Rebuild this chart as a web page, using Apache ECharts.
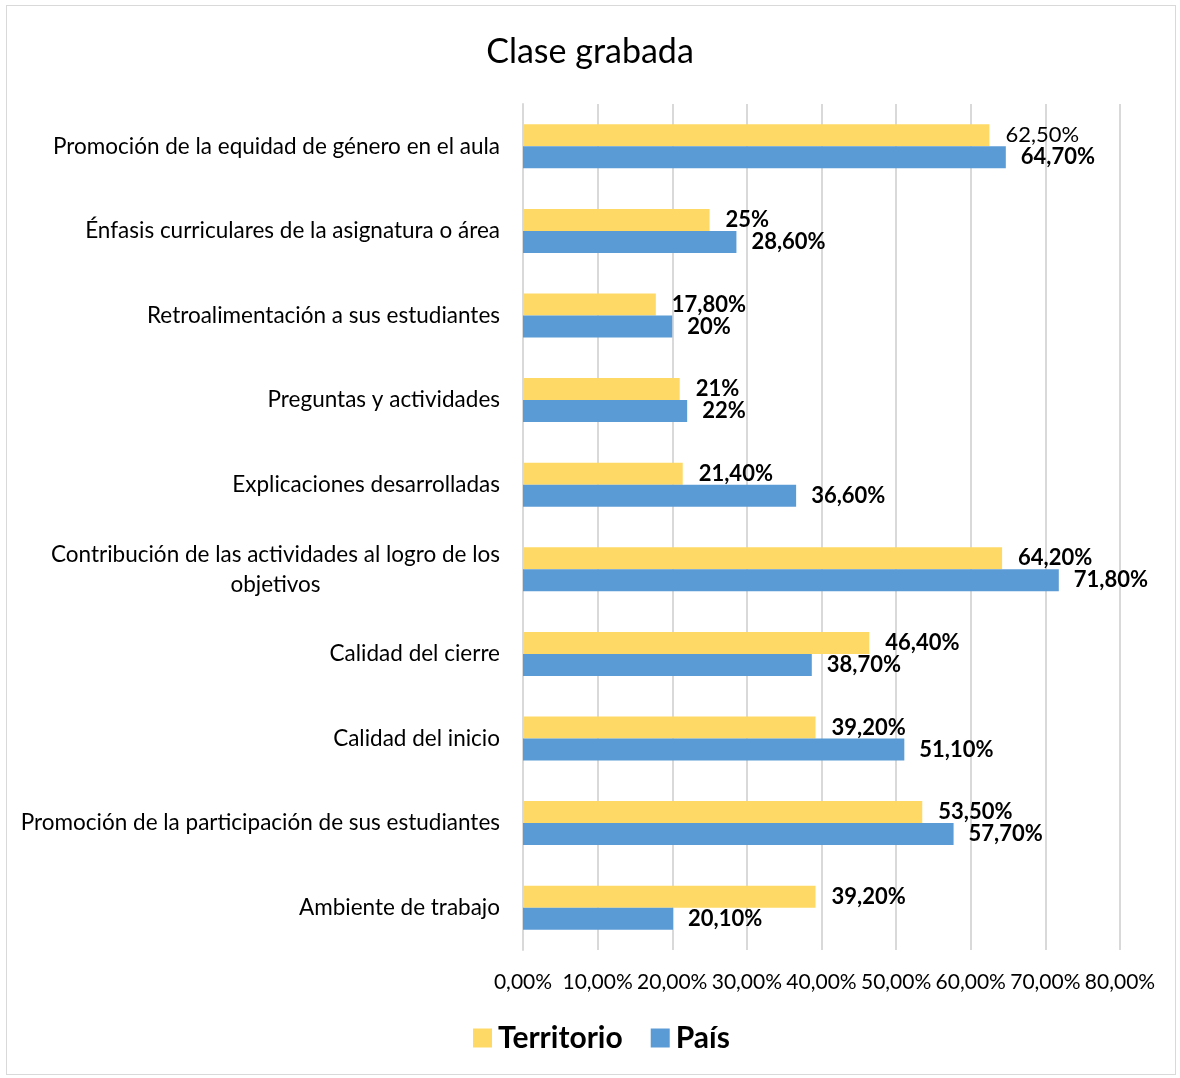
<!DOCTYPE html>
<html>
<head>
<meta charset="utf-8">
<script src="https://cdn.jsdelivr.net/npm/echarts@6/dist/echarts.min.js"></script>
<style>
html,body{margin:0;padding:0;background:#fff;}
#frame{position:absolute;left:6px;top:5px;width:1170px;height:1070px;border:1px solid #d9d9d9;box-sizing:border-box;}
#chart{position:absolute;left:0;top:0;width:1180px;height:1078px;}
</style>
</head>
<body>
<div id="frame"></div>
<div id="chart"></div>
<script>
const title = 'Clase grabada';
const categories = [
  'Promoción de la equidad de género en el aula',
  'Énfasis curriculares de la asignatura o área',
  'Retroalimentación a sus estudiantes',
  'Preguntas y actividades',
  'Explicaciones desarrolladas',
  'Contribución de las actividades al logro de los\nobjetivos',
  'Calidad del cierre',
  'Calidad del inicio',
  'Promoción de la participación de sus estudiantes',
  'Ambiente de trabajo'
];
const seriesNames = ['Territorio', 'País'];
const territorio = [62.5, 25, 17.8, 21, 21.4, 64.2, 46.4, 39.2, 53.5, 39.2];
const pais = [64.7, 28.6, 20, 22, 36.6, 71.8, 38.7, 51.1, 57.7, 20.1];
const territorioLabels = ['62,50%', '25%', '17,80%', '21%', '21,40%', '64,20%', '46,40%', '39,20%', '53,50%', '39,20%'];
const paisLabels = ['64,70%', '28,60%', '20%', '22%', '36,60%', '71,80%', '38,70%', '51,10%', '57,70%', '20,10%'];
const territorioBold = [false, true, true, true, true, true, true, true, true, true];
const xTicks = [0, 10, 20, 30, 40, 50, 60, 70, 80];

const FONT = 'Lato';
const catFontSize = 22.5;

const chart = echarts.init(document.getElementById('chart'));
function mkData(vals, labels, bold) {
  return vals.map((v, i) => ({
    value: v,
    label: { formatter: labels[i], fontWeight: bold ? (bold[i] ? 'bold' : 'normal') : 'bold' }
  }));
}
chart.setOption({
  animation: false,
  textStyle: { fontFamily: FONT },
  title: {
    text: title, left: 'center', top: 30,
    textStyle: { fontFamily: FONT, fontSize: 34, fontWeight: 'normal', color: '#000' }
  },
  legend: {
    bottom: 20, left: 468, itemWidth: 19, itemHeight: 19, itemGap: 28,
    icon: 'rect',
    textStyle: { fontFamily: FONT, fontSize: 30, fontWeight: 'bold', color: '#000', padding: [0, 0, 0, 1] },
    data: seriesNames
  },
  grid: { left: 523, right: 60, top: 104, bottom: 128, containLabel: false },
  xAxis: {
    type: 'value', min: xTicks[0], max: xTicks[xTicks.length - 1], interval: xTicks[1] - xTicks[0],
    axisLine: { show: false }, axisTick: { show: false },
    splitLine: { lineStyle: { color: '#d9d9d9', width: 2 } },
    axisLabel: {
      margin: 22, fontFamily: FONT, fontSize: 21, color: '#000',
      formatter: v => v.toFixed(2).replace('.', ',') + '%'
    }
  },
  yAxis: {
    type: 'category', data: categories, inverse: true,
    axisLine: { show: true, lineStyle: { color: '#d9d9d9', width: 2 } },
    axisTick: { show: false },
    axisLabel: {
      margin: 23, fontFamily: FONT, fontSize: catFontSize, color: '#000', lineHeight: 30,
      formatter: function (v) {
        const lines = v.split('\n');
        if (lines.length === 1) return v;
        return lines.map(l => '{c|' + l + '}').join('\n');
      },
      rich: {
        c: { align: 'center', fontFamily: FONT, fontSize: catFontSize, color: '#000', lineHeight: 30 }
      }
    }
  },
  series: [
    {
      name: seriesNames[0], type: 'bar', barWidth: 22, barGap: '0%',
      itemStyle: { color: '#FFD966' },
      label: { show: true, position: 'right', distance: 16, fontFamily: FONT, fontSize: 22, color: '#000' },
      data: mkData(territorio, territorioLabels, territorioBold)
    },
    {
      name: seriesNames[1], type: 'bar', barWidth: 22, barGap: '0%',
      itemStyle: { color: '#5B9BD5' },
      label: { show: true, position: 'right', distance: 15, fontFamily: FONT, fontSize: 22, color: '#000', fontWeight: 'bold' },
      data: mkData(pais, paisLabels, null)
    }
  ]
});
</script>
</body>
</html>
